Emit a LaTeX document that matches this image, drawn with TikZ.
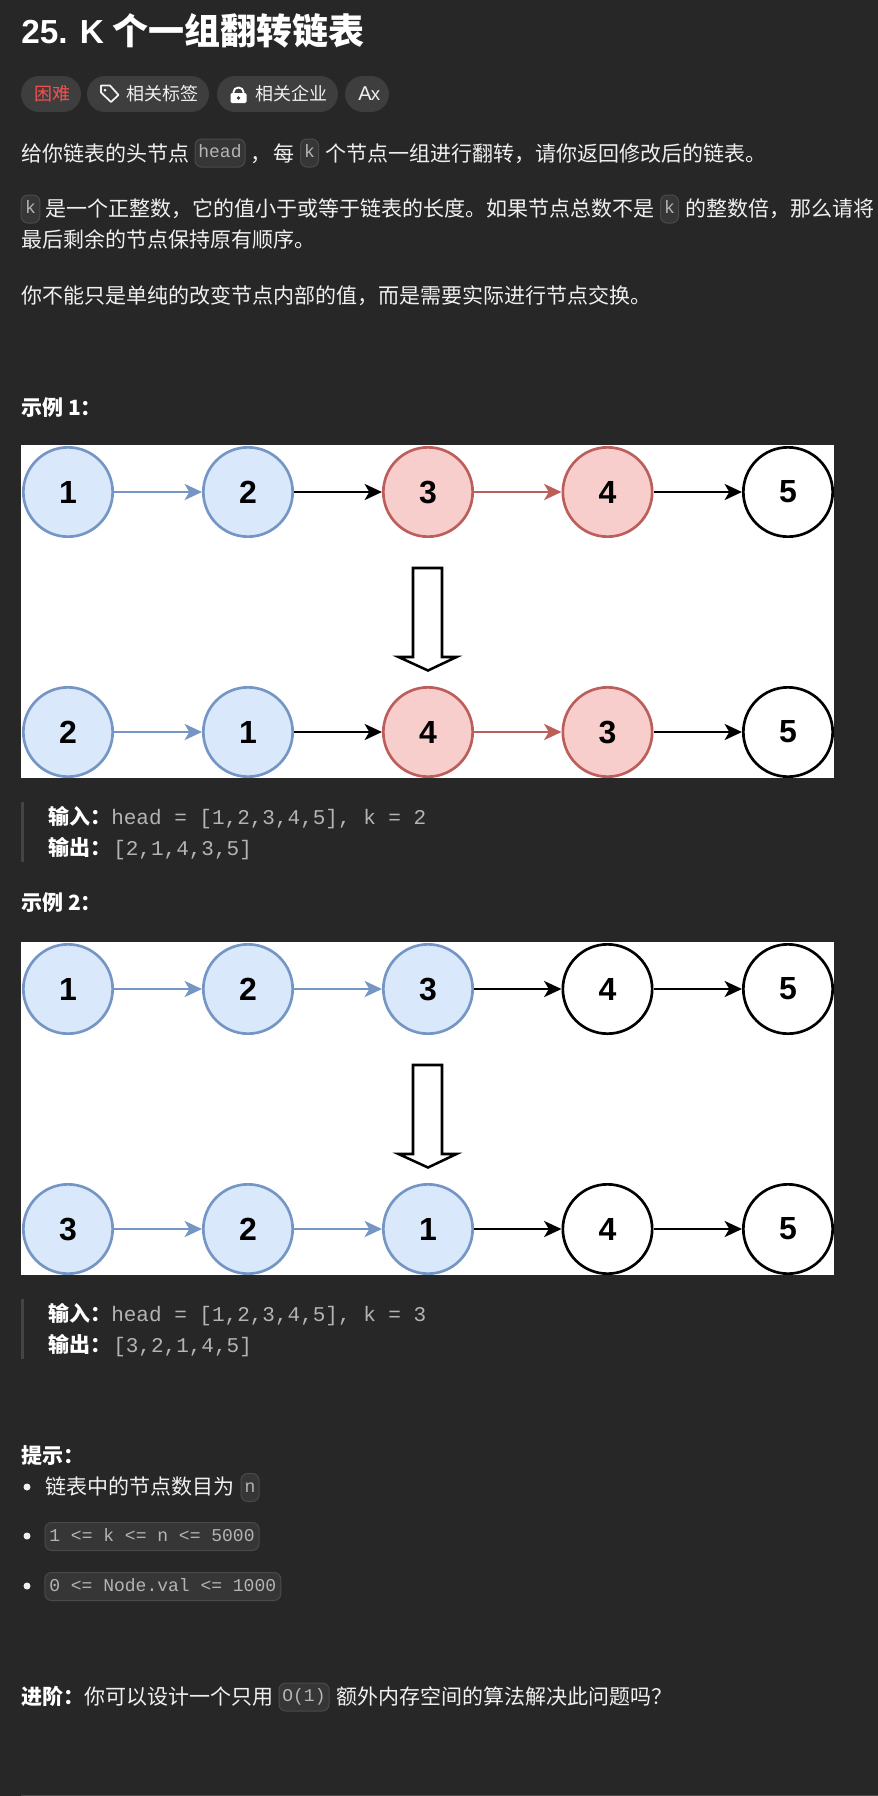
\documentclass[tikz,border=0pt]{standalone}
\usepackage{fontspec}
\setmainfont{Noto Sans CJK SC}
\setmonofont{Liberation Mono}
\newfontfamily\digitfont{Liberation Sans}
\usetikzlibrary{arrows.meta}
\definecolor{pagebg}{HTML}{272727}
\definecolor{chipbg}{HTML}{3E3E3E}
\definecolor{codebg}{HTML}{363636}
\definecolor{codeedge}{HTML}{4A4A4A}
\definecolor{bodytext}{HTML}{F0F0F0}
\definecolor{codetext}{HTML}{B4B4B4}
\definecolor{hardred}{HTML}{F0524F}
\definecolor{bluefill}{HTML}{DAE8FC}
\definecolor{blueedge}{HTML}{7596C4}
\definecolor{redfill}{HTML}{F8CECC}
\definecolor{rededge}{HTML}{BC5E5A}
\definecolor{quotebar}{HTML}{444444}
\tikzset{
  body/.style={anchor=base west,inner sep=0pt,text=bodytext,font=\fontsize{15.75pt}{18pt}\selectfont},
  strong/.style={body,font=\fontsize{15.75pt}{18pt}\selectfont\bfseries,text=white},
  titletext/.style={body,font=\fontsize{27pt}{30pt}\selectfont\bfseries,text=white},
  titlelatin/.style={body,font=\digitfont\fontsize{25pt}{28pt}\selectfont\bfseries,text=white},
  chip/.style={rounded corners=13.5pt,fill=chipbg},
  chiptext/.style={body,font=\fontsize{13.5pt}{16pt}\selectfont},
  monotext/.style={body,text=codetext,font=\fontsize{15.75pt}{18pt}\ttfamily\selectfont},
  code/.style={draw=codeedge,fill=codebg,line width=.75pt,rounded corners=5pt,inner sep=0pt,text=codetext,
    font=\fontsize{13.5pt}{16pt}\ttfamily\selectfont,text height=9pt,text depth=2pt},
  nodebase/.style={circle,minimum size=67pt,inner sep=0pt,line width=2pt,text=black,font=\digitfont\fontsize{24pt}{26pt}\selectfont\bfseries},
  bluenode/.style={nodebase,draw=blueedge,fill=bluefill},
  rednode/.style={nodebase,draw=rededge,fill=redfill},
  plainnode/.style={nodebase,draw=black,fill=white},
  linkbase/.style={line width=2.2pt,-{Stealth[length=13pt,width=12pt,inset=3.5pt]}},
  bluelink/.style={linkbase,draw=blueedge},
  redlink/.style={linkbase,draw=rededge},
  blacklink/.style={linkbase,draw=black},
  bigarrow/.style={draw=black,fill=white,line width=1.9pt,line join=miter},
  bar/.style={fill=quotebar},
  dot/.style={fill=bodytext}
}
\begin{document}
\begin{tikzpicture}[x=.75pt,y=-.75pt]
\useasboundingbox (0,0) rectangle (878,1796);
\fill[pagebg] (0,0) rectangle (878,1796);
\fill[codeedge] (21,1794.5) rectangle (878,1796);

% title and chips
\node[titlelatin] (titlenum) at (21,43) {25. K};
\node[titletext] (title) at (112,44) {个一组翻转链表};
\fill[chip] (21,76) rectangle (81,112);
\fill[chip] (87,76) rectangle (209,112);
\fill[chip] (217,76) rectangle (338,112);
\fill[chip] (345,76) rectangle (389,112);
\node[chiptext,text=hardred] (hard) at (34,100) {困难};
\node[chiptext] (tags) at (126,100) {相关标签};
\node[chiptext] (firms) at (255,100) {相关企业};
\node[chiptext,font=\digitfont\fontsize{15pt}{17pt}\selectfont] (lang) at (358,100) {A\kern-.5pt\raisebox{-.5pt}{\fontsize{14pt}{16pt}\selectfont x}};
% tag icon
\draw[bodytext,line width=1.3pt,line join=round] (101,85.5) -- (110,85.5) -- (118.5,95) -- (111,102) -- (101,92.5) -- cycle;
\fill[bodytext] (105,90) circle (1.5);
% lock icon
\draw[white,line width=1.4pt] (233.5,94) -- (233.5,92) arc[start angle=180,end angle=360,x radius=5,y radius=4.5] -- (243.5,94);
\fill[white,rounded corners=1pt] (230.5,93) rectangle (246.5,103);
\fill[chipbg] (238.5,98) circle (1.8);

% paragraph 1
\node[body] (p1a) at (21,161) {给你链表的头节点};
\node[code,minimum width=37.5pt,minimum height=21pt] (p1head) at (220,153) {head};
\node[body] (p1b) at (250,161) {，};
\node[body] (p1c) at (273,161) {每};
\node[code,minimum width=13.5pt,minimum height=21pt] (p1k) at (309.5,153) {k};
\node[body] (p1d) at (325,161) {个节点一组进行翻转，请你返回修改后的链表。};
% paragraph 2
\node[code,minimum width=14pt,minimum height=21pt] (p2k) at (30.5,209) {k};
\node[body] (p2a) at (45,216.5) {是一个正整数，它的值小于或等于链表的长度。如果节点总数不是};
\node[code,minimum width=13.5pt,minimum height=21pt] (p2kk) at (669.5,209) {k};
\node[body] (p2b) at (685,216.5) {的整数倍，那么请将};
\node[body] (p2c) at (21,247.5) {最后剩余的节点保持原有顺序。};
% paragraph 3
\node[body] (p3) at (21,303.5) {你不能只是单纯的改变节点内部的值，而是需要实际进行节点交换。};

% example 1
\node[strong] (ex1) at (21,415.5) {示例 1：};
\fill[white] (21,445) rectangle (834,778);
\node[bluenode] (a1) at (68,492) {1};
\node[bluenode] (a2) at (248,492) {2};
\node[rednode] (a3) at (428,492) {3};
\node[rednode] (a4) at (607.5,492) {4};
\node[plainnode] (a5) at (788,492) {5};
\draw[bluelink] (a1) -- (a2);
\draw[blacklink] (a2) -- (a3);
\draw[redlink] (a3) -- (a4);
\draw[blacklink] (a4) -- (a5);
\draw[bigarrow] (413,568) -- (442,568) -- (442,657) -- (456.5,657) -- (428,670.5) -- (398.5,657) -- (413,657) -- cycle;
\node[bluenode] (b1) at (68,732) {2};
\node[bluenode] (b2) at (248,732) {1};
\node[rednode] (b3) at (428,732) {4};
\node[rednode] (b4) at (607.5,732) {3};
\node[plainnode] (b5) at (788,732) {5};
\draw[bluelink] (b1) -- (b2);
\draw[blacklink] (b2) -- (b3);
\draw[redlink] (b3) -- (b4);
\draw[blacklink] (b4) -- (b5);
\fill[bar] (21,802) rectangle (23.5,862);
\node[strong] (in1) at (48,824.5) {输入：};
\node[monotext] (in1v) at (111,824.5) {head = [1,2,3,4,5], k = 2};
\node[strong] (out1) at (48,855.5) {输出：};
\node[monotext] (out1v) at (113,855.5) {[2,1,4,3,5]};

% example 2
\node[strong] (ex2) at (21,910.5) {示例 2：};
\fill[white] (21,942) rectangle (834,1275);
\node[bluenode] (c1) at (68,989) {1};
\node[bluenode] (c2) at (248,989) {2};
\node[bluenode] (c3) at (428,989) {3};
\node[plainnode] (c4) at (607.5,989) {4};
\node[plainnode] (c5) at (788,989) {5};
\draw[bluelink] (c1) -- (c2);
\draw[bluelink] (c2) -- (c3);
\draw[blacklink] (c3) -- (c4);
\draw[blacklink] (c4) -- (c5);
\draw[bigarrow] (413,1065) -- (442,1065) -- (442,1154) -- (456.5,1154) -- (428,1167.5) -- (398.5,1154) -- (413,1154) -- cycle;
\node[bluenode] (d1) at (68,1229) {3};
\node[bluenode] (d2) at (248,1229) {2};
\node[bluenode] (d3) at (428,1229) {1};
\node[plainnode] (d4) at (607.5,1229) {4};
\node[plainnode] (d5) at (788,1229) {5};
\draw[bluelink] (d1) -- (d2);
\draw[bluelink] (d2) -- (d3);
\draw[blacklink] (d3) -- (d4);
\draw[blacklink] (d4) -- (d5);
\fill[bar] (21,1299) rectangle (23.5,1359);
\node[strong] (in2) at (48,1321.5) {输入：};
\node[monotext] (in2v) at (111,1321.5) {head = [1,2,3,4,5], k = 3};
\node[strong] (out2) at (48,1352.5) {输出：};
\node[monotext] (out2v) at (113,1352.5) {[3,2,1,4,5]};

% hints
\node[strong] (hint) at (21,1463) {提示：};
\fill[dot] (27,1487) circle (3.5);
\node[body] (h1) at (45,1494.5) {链表中的节点数目为};
\node[code,minimum width=13.5pt,minimum height=21pt] (h1n) at (250,1487.5) {n};
\fill[dot] (27,1536) circle (3.5);
\node[code,minimum width=160.5pt,minimum height=21pt] (h2) at (152,1536.5) {1 <= k <= n <= 5000};
\fill[dot] (27,1586) circle (3.5);
\node[code,minimum width=177pt,minimum height=21pt] (h3) at (162.75,1586.5) {0 <= Node.val <= 1000};

% follow-up
\node[strong] (adv) at (21,1704) {进阶：};
\node[body] (adva) at (84,1704) {你可以设计一个只用};
\node[code,minimum width=37.5pt,minimum height=21pt] (advo) at (304,1697) {O(1)};
\node[body] (advb) at (336,1704) {额外内存空间的算法解决此问题吗？};
\end{tikzpicture}
\end{document}
